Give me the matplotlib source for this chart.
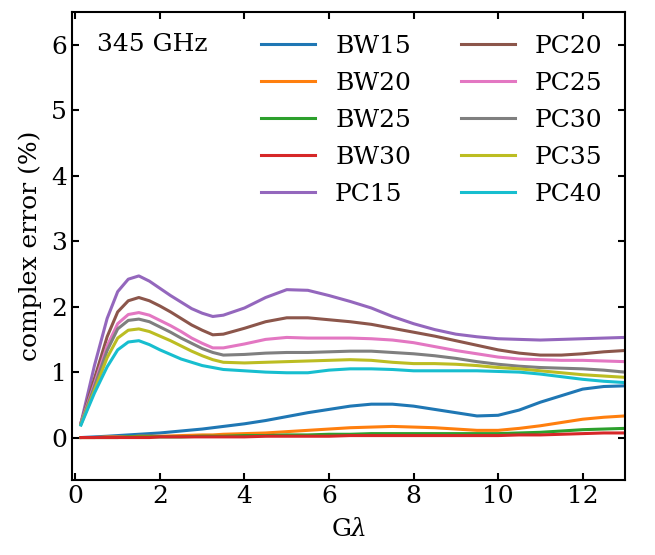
import matplotlib
matplotlib.use('Agg')
import matplotlib.pyplot as plt

# Gλ grid shared by all curves
x = [0.13, 0.45, 0.75, 1.0, 1.25, 1.5, 1.75, 2.0, 2.25, 2.5, 2.75, 3.0, 3.25, 3.5, 4.0, 4.5, 5.0,
     5.5, 6.0, 6.5, 7.0, 7.5, 8.0, 8.5, 9.0, 9.5, 10.0, 10.5, 11.0, 11.5, 12.0, 12.5, 13.0]

bw15 = [0.00, 0.01, 0.02, 0.03, 0.04, 0.05, 0.06, 0.07, 0.085, 0.10, 0.115, 0.13, 0.15, 0.17, 0.21, 0.26, 0.32,
        0.38, 0.43, 0.48, 0.51, 0.51, 0.48, 0.43, 0.38, 0.33, 0.34, 0.42, 0.54, 0.64, 0.74, 0.78, 0.79]
bw20 = [0.00, 0.00, 0.01, 0.01, 0.01, 0.02, 0.02, 0.02, 0.025, 0.03, 0.035, 0.04, 0.04, 0.05, 0.06, 0.07, 0.09,
        0.11, 0.13, 0.15, 0.16, 0.17, 0.16, 0.15, 0.13, 0.11, 0.11, 0.14, 0.18, 0.23, 0.28, 0.31, 0.33]
bw25 = [0.00, 0.00, 0.00, 0.00, 0.01, 0.01, 0.01, 0.01, 0.01, 0.01, 0.015, 0.02, 0.02, 0.02, 0.03, 0.03, 0.04,
        0.04, 0.05, 0.05, 0.06, 0.06, 0.06, 0.06, 0.06, 0.06, 0.06, 0.07, 0.08, 0.10, 0.12, 0.13, 0.14]
bw30 = [0.00, 0.00, 0.00, 0.00, 0.00, 0.00, 0.00, 0.01, 0.01, 0.01, 0.01, 0.01, 0.01, 0.01, 0.01, 0.02, 0.02,
        0.02, 0.02, 0.03, 0.03, 0.03, 0.03, 0.03, 0.03, 0.03, 0.03, 0.04, 0.04, 0.05, 0.06, 0.07, 0.07]
pc15 = [0.22, 1.10, 1.82, 2.23, 2.42, 2.47, 2.39, 2.28, 2.17, 2.07, 1.97, 1.90, 1.85, 1.87, 1.98, 2.14, 2.26,
        2.25, 2.17, 2.08, 1.98, 1.85, 1.74, 1.65, 1.58, 1.54, 1.51, 1.50, 1.49, 1.50, 1.51, 1.52, 1.53]
pc20 = [0.22, 0.90, 1.54, 1.92, 2.09, 2.14, 2.09, 2.01, 1.92, 1.82, 1.72, 1.64, 1.57, 1.58, 1.67, 1.77, 1.83,
        1.83, 1.80, 1.77, 1.73, 1.67, 1.61, 1.55, 1.48, 1.41, 1.34, 1.29, 1.26, 1.26, 1.28, 1.31, 1.33]
pc25 = [0.22, 0.82, 1.40, 1.74, 1.88, 1.91, 1.87, 1.79, 1.71, 1.62, 1.52, 1.44, 1.37, 1.37, 1.43, 1.50, 1.53,
        1.52, 1.52, 1.52, 1.51, 1.49, 1.45, 1.39, 1.33, 1.28, 1.23, 1.20, 1.19, 1.18, 1.18, 1.17, 1.16]
pc30 = [0.21, 0.78, 1.33, 1.66, 1.79, 1.81, 1.77, 1.69, 1.61, 1.52, 1.44, 1.36, 1.30, 1.26, 1.27, 1.29, 1.30,
        1.30, 1.31, 1.32, 1.32, 1.30, 1.28, 1.25, 1.21, 1.16, 1.12, 1.09, 1.07, 1.06, 1.05, 1.03, 1.00]
pc35 = [0.20, 0.72, 1.22, 1.52, 1.64, 1.66, 1.62, 1.55, 1.48, 1.40, 1.32, 1.25, 1.19, 1.15, 1.14, 1.15, 1.16,
        1.17, 1.18, 1.19, 1.18, 1.15, 1.13, 1.13, 1.12, 1.10, 1.07, 1.05, 1.02, 0.99, 0.96, 0.94, 0.92]
pc40 = [0.19, 0.68, 1.08, 1.34, 1.46, 1.48, 1.42, 1.34, 1.27, 1.20, 1.15, 1.10, 1.07, 1.04, 1.02, 1.00, 0.99,
        0.99, 1.03, 1.05, 1.05, 1.04, 1.02, 1.02, 1.02, 1.02, 1.01, 1.00, 0.97, 0.93, 0.89, 0.86, 0.84]

labels = ['BW15', 'BW20', 'BW25', 'BW30', 'PC15', 'PC20', 'PC25', 'PC30', 'PC35', 'PC40']
series = [bw15, bw20, bw25, bw30, pc15, pc20, pc25, pc30, pc35, pc40]

plt.rcParams['font.family'] = ['DejaVu Serif']
plt.rcParams['mathtext.fontset'] = 'dejavuserif'
plt.rcParams['font.size'] = 18

fig = plt.figure(figsize=(6.55, 5.55), dpi=100)
ax = fig.add_axes([0.110, 0.135, 0.844, 0.843])

for lab, y in zip(labels, series):
    ax.plot(x, y, lw=2.2, label=lab)

ax.set_xlim(-0.08, 13.0)
ax.set_ylim(-0.65, 6.5)
ax.set_xticks([0, 2, 4, 6, 8, 10, 12])
ax.set_yticks([0, 1, 2, 3, 4, 5, 6])
ax.tick_params(direction='in', top=True, right=True, length=5, width=1.5, labelsize=18)
for sp in ax.spines.values():
    sp.set_linewidth(1.5)

ax.set_xlabel(r'G$\lambda$', fontsize=18, labelpad=7)
ax.set_ylabel('complex error (%)', fontsize=18, labelpad=7)

ax.text(0.045, 0.93, '345 GHz', transform=ax.transAxes, fontsize=18, va='center', ha='left')

ax.legend(ncol=2, loc='upper right', frameon=False, fontsize=18,
          handlelength=2.15, handletextpad=0.8, columnspacing=2.0,
          labelspacing=0.56, borderaxespad=0.5)

fig.savefig('out.png', dpi=100)
